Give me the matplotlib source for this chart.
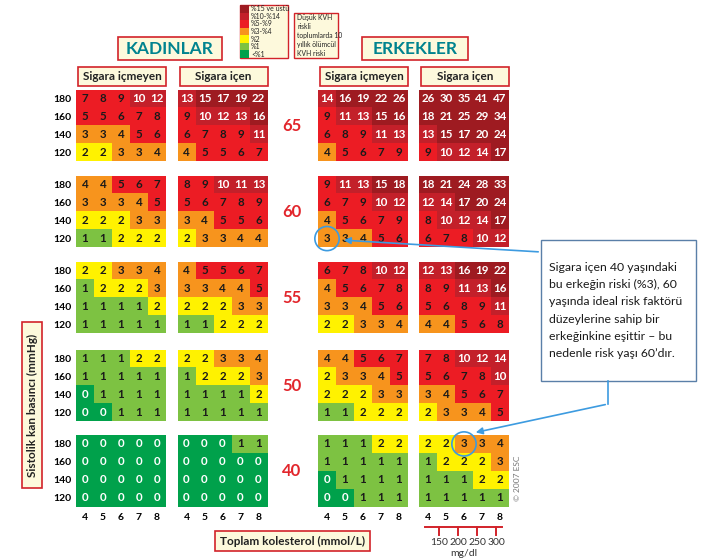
import numpy as np
import matplotlib.pyplot as plt
from matplotlib.colors import ListedColormap, BoundaryNorm
from matplotlib.patches import Rectangle, Ellipse

plt.rcParams['font.family'] = ['Lato', 'DejaVu Sans']

# ---- data: 10-year fatal CVD risk (%) ----
ages = [65, 60, 55, 50, 40]
sbp = [180, 160, 140, 120]
chol = [4, 5, 6, 7, 8]
group_titles = ['Sigara içmeyen', 'Sigara içen', 'Sigara içmeyen', 'Sigara içen']

women_ns = {
    65: [[7, 8, 9, 10, 12], [5, 5, 6, 7, 8], [3, 3, 4, 5, 6], [2, 2, 3, 3, 4]],
    60: [[4, 4, 5, 6, 7], [3, 3, 3, 4, 5], [2, 2, 2, 3, 3], [1, 1, 2, 2, 2]],
    55: [[2, 2, 3, 3, 4], [1, 2, 2, 2, 3], [1, 1, 1, 1, 2], [1, 1, 1, 1, 1]],
    50: [[1, 1, 1, 2, 2], [1, 1, 1, 1, 1], [0, 1, 1, 1, 1], [0, 0, 1, 1, 1]],
    40: [[0, 0, 0, 0, 0], [0, 0, 0, 0, 0], [0, 0, 0, 0, 0], [0, 0, 0, 0, 0]],
}
women_s = {
    65: [[13, 15, 17, 19, 22], [9, 10, 12, 13, 16], [6, 7, 8, 9, 11], [4, 5, 5, 6, 7]],
    60: [[8, 9, 10, 11, 13], [5, 6, 7, 8, 9], [3, 4, 5, 5, 6], [2, 3, 3, 4, 4]],
    55: [[4, 5, 5, 6, 7], [3, 3, 4, 4, 5], [2, 2, 2, 3, 3], [1, 1, 2, 2, 2]],
    50: [[2, 2, 3, 3, 4], [1, 2, 2, 2, 3], [1, 1, 1, 1, 2], [1, 1, 1, 1, 1]],
    40: [[0, 0, 0, 1, 1], [0, 0, 0, 0, 0], [0, 0, 0, 0, 0], [0, 0, 0, 0, 0]],
}
men_ns = {
    65: [[14, 16, 19, 22, 26], [9, 11, 13, 15, 16], [6, 8, 9, 11, 13], [4, 5, 6, 7, 9]],
    60: [[9, 11, 13, 15, 18], [6, 7, 9, 10, 12], [4, 5, 6, 7, 9], [3, 3, 4, 5, 6]],
    55: [[6, 7, 8, 10, 12], [4, 5, 6, 7, 8], [3, 3, 4, 5, 6], [2, 2, 3, 3, 4]],
    50: [[4, 4, 5, 6, 7], [2, 3, 3, 4, 5], [2, 2, 2, 3, 3], [1, 1, 2, 2, 2]],
    40: [[1, 1, 1, 2, 2], [1, 1, 1, 1, 1], [0, 1, 1, 1, 1], [0, 0, 1, 1, 1]],
}
men_s = {
    65: [[26, 30, 35, 41, 47], [18, 21, 25, 29, 34], [13, 15, 17, 20, 24], [9, 10, 12, 14, 17]],
    60: [[18, 21, 24, 28, 33], [12, 14, 17, 20, 24], [8, 10, 12, 14, 17], [6, 7, 8, 10, 12]],
    55: [[12, 13, 16, 19, 22], [8, 9, 11, 13, 16], [5, 6, 8, 9, 11], [4, 4, 5, 6, 8]],
    50: [[7, 8, 10, 12, 14], [5, 6, 7, 8, 10], [3, 4, 5, 6, 7], [2, 3, 3, 4, 5]],
    40: [[2, 2, 3, 3, 4], [1, 2, 2, 2, 3], [1, 1, 1, 2, 2], [1, 1, 1, 1, 1]],
}
groups = [women_ns, women_s, men_ns, men_s]

legend_labels = ['%15 ve üstü', '%10-%14', '%5-%9', '%3-%4', '%2', '%1', '<%1']
mgdl = [150, 200, 250, 300]

risk_colors = ['#00a14b', '#7dc242', '#fff200', '#f7941d', '#ec1c24', '#c3202a', '#9e1b21']
bounds = [-0.5, 0.5, 1.5, 2.5, 4.5, 9.5, 14.5, 100]
cmap = ListedColormap(risk_colors)
norm = BoundaryNorm(bounds, cmap.N)

cream = '#fdf9dc'
frame_red = '#d2232a'
teal = '#00838f'
age_red = '#e2262c'
note_blue = '#3d9be0'

W, H = 721, 558
fig = plt.figure(figsize=(W / 100, H / 100), dpi=100)
fig.patch.set_facecolor('white')


def px_rect(x0, y0, w, h):
    return [x0 / W, 1 - (y0 + h) / H, w / W, h / H]


grid_left = [76, 177.5, 318, 419]
row_top = [90, 176, 262, 350, 435]
grid_w, grid_h = 90, 71.5

axes = {}
for r, age in enumerate(ages):
    for g, tab in enumerate(groups):
        ax = fig.add_axes(px_rect(grid_left[g], row_top[r], grid_w, grid_h))
        vals = np.array(tab[age])
        ax.imshow(vals, cmap=cmap, norm=norm, aspect='auto',
                  extent=(3.5, 8.5, 110, 190), interpolation='nearest')
        for i, s in enumerate(sbp):
            for j, c in enumerate(chol):
                v = vals[i, j]
                tc = 'white' if (v == 0 or v >= 10) else '#1a1a1a'
                ax.text(c, s, str(v), ha='center', va='center', fontsize=8.3,
                        fontweight='bold', color=tc)
        for sp in ax.spines.values():
            sp.set_visible(False)
        ax.tick_params(length=0, labelsize=7.5, pad=3)
        if g == 0:
            ax.set_yticks(sbp)
            ax.set_yticklabels([str(s) for s in sbp], fontweight='bold')
        else:
            ax.set_yticks([])
        if r == len(ages) - 1:
            ax.set_xticks(chol)
            ax.set_xticklabels([str(c) for c in chol], fontweight='bold')
            ax.tick_params(axis='x', pad=5)
        else:
            ax.set_xticks([])
        axes[(age, g)] = ax

# highlight circles
for key, (cx, cy) in {(60, 2): (4, 120), (40, 3): (6, 180)}.items():
    axes[key].add_patch(Ellipse((cx, cy), 1.35, 27, fill=False, ec=note_blue,
                                lw=1.2, clip_on=False, zorder=5))

# ---- overlay for labels and boxes ----
ov = fig.add_axes([0, 0, 1, 1], zorder=10)
ov.set_xlim(0, W)
ov.set_ylim(H, 0)
ov.axis('off')
ov.patch.set_alpha(0)


def box(x0, y0, x1, y1, ec=frame_red, lw=1.2, fc=cream):
    ov.add_patch(Rectangle((x0, y0), x1 - x0, y1 - y0, fc=fc, ec=ec, lw=lw))


# age labels
for r, age in enumerate(ages):
    ov.text(292, row_top[r] + grid_h / 2, str(age), ha='center', va='center',
            fontsize=12, fontweight='bold', color=age_red)

# headers
box(118, 37, 222, 60)
ov.text(170, 48.5, 'KADINLAR', ha='center', va='center', fontsize=12.5,
        fontweight='bold', color=teal)
box(362, 37, 468, 60)
ov.text(415, 48.5, 'ERKEKLER', ha='center', va='center', fontsize=12.5,
        fontweight='bold', color=teal)

for g, title in enumerate(group_titles):
    x0 = grid_left[g] + 2
    box(x0, 67, x0 + grid_w - 2, 86)
    ov.text(x0 + (grid_w - 2) / 2, 76.5, title, ha='center', va='center',
            fontsize=8.5, fontweight='bold', color='#222222')

# legend
box(240, 5, 288, 58, lw=1.0)
sw_h = (58 - 5) / len(legend_labels)
for k, (lab, col) in enumerate(zip(legend_labels, risk_colors[::-1])):
    y0 = 5 + k * sw_h
    ov.add_patch(Rectangle((240, y0), 9, sw_h, fc=col, ec='none'))
    ov.text(251, y0 + sw_h / 2, lab, ha='left', va='center', fontsize=5,
            color='#222222')
box(294, 13, 338, 58, lw=1.0)
ov.text(297, 35.5, 'Düşük KVH\nriskli\ntoplumlarda 10\nyıllık ölümcül\nKVH riski',
        ha='left', va='center', fontsize=4.9, color='#222222', linespacing=1.35)

# axis titles
box(22, 322, 42, 488)
ov.text(32, 405, 'Sistolik kan basıncı (mmHg)', rotation=90, ha='center',
        va='center', fontsize=8.5, fontweight='bold', color='#222222')
box(215, 531, 370, 551)
ov.text(292.5, 541, 'Toplam kolesterol (mmol/L)', ha='center', va='center',
        fontsize=8.5, fontweight='bold', color='#222222')

# mg/dl scale
ov.plot([425, 502], [527, 527], color=frame_red, lw=1.4)
for v in mgdl:
    xm = 439 + (v - 150) / 50 * 19
    ov.plot([xm, xm], [527, 535], color=frame_red, lw=1.4)
    ov.text(xm, 542.5, str(v), ha='center', va='center', fontsize=7.5,
            color='#333333')
ov.text(464, 553.5, 'mg/dl', ha='center', va='center', fontsize=7.5,
        color='#333333')

ov.text(518, 478, '© 2007 ESC', rotation=90, ha='center', va='center',
        fontsize=6, color='#777777')

# note box with arrows
box(541, 240, 696, 381, ec='#5a7fa8', lw=1.0, fc='white')
ov.text(549, 310.5,
        'Sigara içen 40 yaşındaki\nbu erkeğin riski (%3), 60\n'
        'yaşında ideal risk faktörü\ndüzeylerine sahip bir\n'
        'erkeğinkine eşittir – bu\nnedenle risk yaşı 60’dır.',
        ha='left', va='center', fontsize=8.8, color='#1a1a1a', linespacing=1.7)
ov.annotate('', xy=(341, 240), xytext=(541, 252),
            arrowprops=dict(arrowstyle='-|>', color=note_blue, lw=1.2,
                            mutation_scale=10))
ov.plot([608, 608], [381, 404], color=note_blue, lw=1.2)
ov.annotate('', xy=(473, 433), xytext=(608, 404),
            arrowprops=dict(arrowstyle='-|>', color=note_blue, lw=1.2,
                            mutation_scale=10))

fig.savefig('out.png', dpi=100, facecolor='white')
